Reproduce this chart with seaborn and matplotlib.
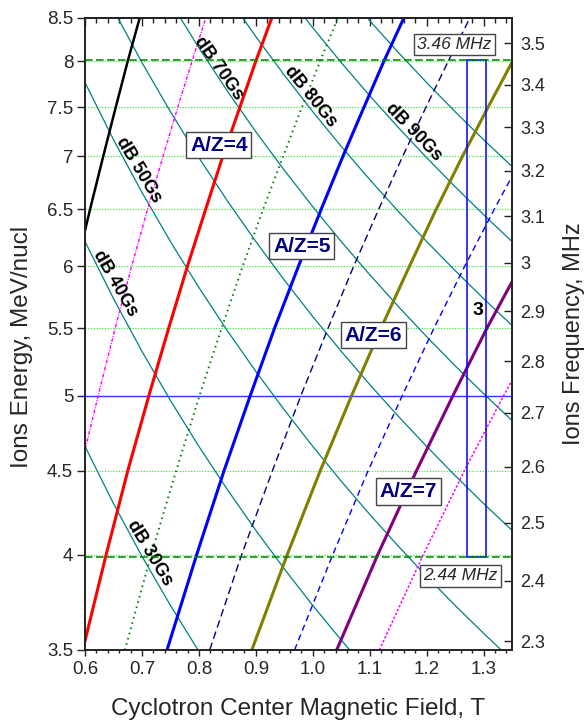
import matplotlib
matplotlib.use("Agg")
import matplotlib.pyplot as plt
import matplotlib.ticker as mticker
from matplotlib.patches import Rectangle
import pandas as pd
import seaborn as sns

# ------------------------------------------------------------
# Data
# ------------------------------------------------------------

# field (T) of each A/Z line at these energies (MeV/nucl)
energy_grid = [3.5, 4.0, 4.5, 5.0, 5.5, 6.0, 6.5, 7.0, 7.5, 8.0, 8.5]
az_field = {
    "3":   [0.447, 0.478, 0.506, 0.534, 0.560, 0.585, 0.609, 0.632, 0.654, 0.675, 0.696],
    "3.5": [0.521, 0.557, 0.591, 0.623, 0.653, 0.682, 0.710, 0.737, 0.763, 0.788, 0.812],
    "4":   [0.596, 0.637, 0.675, 0.712, 0.747, 0.780, 0.812, 0.842, 0.872, 0.900, 0.928],
    "4.5": [0.670, 0.716, 0.760, 0.801, 0.840, 0.877, 0.913, 0.948, 0.981, 1.013, 1.044],
    "5":   [0.744, 0.796, 0.844, 0.890, 0.933, 0.975, 1.015, 1.053, 1.090, 1.125, 1.160],
    "5.5": [0.819, 0.875, 0.929, 0.979, 1.027, 1.072, 1.116, 1.158, 1.199, 1.238, 1.276],
    "6":   [0.893, 0.955, 1.013, 1.068, 1.120, 1.170, 1.217, 1.263, 1.308, 1.351, 1.392],
    "6.5": [0.968, 1.035, 1.097, 1.157, 1.213, 1.267, 1.319, 1.369, 1.417, 1.463, 1.508],
    "7":   [1.042, 1.114, 1.182, 1.246, 1.306, 1.365, 1.420, 1.474, 1.526, 1.576, 1.624],
    "7.5": [1.117, 1.194, 1.266, 1.335, 1.400, 1.462, 1.522, 1.579, 1.635, 1.688, 1.740],
}

# energy (MeV/nucl) of each dB contour at these fields (T)
field_grid = [0.60, 0.65, 0.70, 0.75, 0.80, 0.85, 0.90, 0.95,
              1.00, 1.05, 1.10, 1.15, 1.20, 1.25, 1.30, 1.35]
db_energy = {
    30:  [4.658, 4.299, 3.992, 3.726, 3.493, 3.288, 3.105, 2.942,
          2.795, 2.661, 2.540, 2.430, 2.329, 2.236, 2.150, 2.070],
    40:  [6.210, 5.732, 5.323, 4.968, 4.658, 4.384, 4.140, 3.922,
          3.726, 3.549, 3.387, 3.240, 3.105, 2.981, 2.866, 2.760],
    50:  [7.763, 7.165, 6.654, 6.210, 5.822, 5.479, 5.175, 4.903,
          4.658, 4.436, 4.234, 4.050, 3.881, 3.726, 3.583, 3.450],
    60:  [9.315, 8.598, 7.984, 7.452, 6.986, 6.575, 6.210, 5.883,
          5.589, 5.323, 5.081, 4.860, 4.658, 4.471, 4.299, 4.140],
    70:  [10.868, 10.032, 9.315, 8.694, 8.151, 7.671, 7.245, 6.864,
          6.521, 6.210, 5.928, 5.670, 5.434, 5.216, 5.016, 4.830],
    80:  [12.420, 11.465, 10.646, 9.936, 9.315, 8.767, 8.280, 7.844,
          7.452, 7.097, 6.775, 6.480, 6.210, 5.962, 5.732, 5.520],
    90:  [13.973, 12.898, 11.976, 11.178, 10.479, 9.863, 9.315, 8.825,
          8.384, 7.984, 7.621, 7.290, 6.986, 6.707, 6.449, 6.210],
    100: [15.525, 14.331, 13.307, 12.420, 11.644, 10.959, 10.350, 9.805,
          9.315, 8.871, 8.468, 8.100, 7.763, 7.452, 7.165, 6.900],
}

energy_ticks = [3.5, 4.0, 4.5, 5.0, 5.5, 6.0, 6.5, 7.0, 7.5, 8.0, 8.5]
freq_ticks = [2.3, 2.4, 2.5, 2.6, 2.7, 2.8, 2.9, 3.0, 3.1, 3.2, 3.3, 3.4, 3.5]
freq_axis_limits = (2.286, 3.563)   # right axis range matching 3.5 .. 8.5 MeV/nucl
freq_band = [2.44, 3.46]            # MHz, working frequency range
band_field = [1.271, 1.305]         # T, field span of the harmonic-3 box
reference_energy = 5.0

# ------------------------------------------------------------
# Styles
# ------------------------------------------------------------
az_colors = {"3": "black", "3.5": "#ff00ff", "4": "#ff0000", "4.5": "#008000",
             "5": "#0000ff", "5.5": "#000080", "6": "#808000", "6.5": "#0000ff",
             "7": "#800080", "7.5": "#ff00ff"}
az_dashes = {"3": "", "3.5": (2.6, 1.0, 0.7, 1.0), "4": "", "4.5": (0.8, 2.0),
             "5": "", "5.5": (5.5, 3.0), "6": "", "6.5": (4.5, 3.0),
             "7": "", "7.5": (1.6, 1.2)}
az_widths = {"3": 1.8, "3.5": 1.0, "4": 2.2, "4.5": 1.4, "5": 2.2,
             "5.5": 1.0, "6": 2.2, "6.5": 1.0, "7": 2.2, "7.5": 1.1}

sns.set_theme(style="ticks")
plt.rcParams["font.family"] = ["Liberation Sans", "DejaVu Sans"]

az_df = pd.DataFrame(
    [(k, b, e) for k, vals in az_field.items() for b, e in zip(vals, energy_grid)],
    columns=["line", "field", "energy"],
)
db_df = pd.DataFrame(
    [(k, b, e) for k, vals in db_energy.items() for b, e in zip(field_grid, vals)],
    columns=["level", "field", "energy"],
)

fig = plt.figure(figsize=(5.88, 7.21), dpi=100)
ax = fig.add_axes([0.1446, 0.0985, 0.7262, 0.8766])
ax.set_yscale("log")

# light green energy grid and the 5 MeV/nucl reference
for e in energy_ticks[1:-1]:
    ax.axhline(e, color="#22ee22", lw=0.8, ls=(0, (1, 1.5)), zorder=1)
ax.axhline(reference_energy, color="#3535ff", lw=1.0, zorder=1.6)

# dB contours
sns.lineplot(data=db_df, x="field", y="energy", units="level", estimator=None,
             color="#008080", lw=0.9, sort=False, legend=False, ax=ax)

# A/Z lines
sns.lineplot(data=az_df, x="field", y="energy", hue="line", style="line",
             size="line", palette=az_colors, dashes=az_dashes, sizes=az_widths,
             estimator=None, sort=False, legend=False, ax=ax)

ax.set_xlim(0.6, 1.35)
ax.set_ylim(3.5, 8.5)
ax.yaxis.set_major_locator(mticker.FixedLocator(energy_ticks))
ax.yaxis.set_major_formatter(mticker.FuncFormatter(lambda v, p: f"{v:g}"))
ax.yaxis.set_minor_locator(mticker.NullLocator())
ax.xaxis.set_major_locator(mticker.MultipleLocator(0.1))
ax.xaxis.set_minor_locator(mticker.MultipleLocator(0.02))
ax.xaxis.set_major_formatter(mticker.FormatStrFormatter("%.1f"))
ax.tick_params(axis="x", which="major", direction="out", length=4, width=1,
               labelsize=13.5, pad=4, color="#222222")
ax.tick_params(axis="x", which="minor", direction="out", length=2.4, width=1,
               color="#222222")
ax.tick_params(axis="y", which="major", direction="out", length=5.5, width=1,
               labelsize=13.5, pad=3, color="#222222", right=False)

top = ax.secondary_xaxis("top")
top.xaxis.set_major_locator(mticker.MultipleLocator(0.1))
top.xaxis.set_minor_locator(mticker.MultipleLocator(0.02))
top.tick_params(which="major", direction="in", length=5.5, width=1,
                labeltop=False, color="#222222")
top.tick_params(which="minor", direction="in", length=3.5, width=1,
                color="#222222")
top.spines["top"].set_linewidth(1.2)
top.spines["top"].set_color("#222222")

for s in ax.spines.values():
    s.set_linewidth(1.2)
    s.set_color("#222222")

ax.set_xlabel("Cyclotron Center Magnetic Field, T", fontsize=17.5)
ax.set_ylabel("Ions Energy, MeV/nucl", fontsize=17.5)
ax.xaxis.set_label_coords(0.5, -0.076)
ax.yaxis.set_label_coords(-0.122, 0.48)

# right frequency axis
ax2 = ax.twinx()
ax2.set_yscale("log")
ax2.set_ylim(*freq_axis_limits)
ax2.yaxis.set_major_locator(mticker.FixedLocator(freq_ticks))
ax2.yaxis.set_major_formatter(mticker.FuncFormatter(lambda v, p: f"{v:g}"))
ax2.yaxis.set_minor_locator(mticker.NullLocator())
ax2.tick_params(axis="y", direction="in", length=6, width=1, labelsize=13,
                pad=6, color="#222222")
for s in ax2.spines.values():
    s.set_linewidth(1.2)
    s.set_color("#222222")
ax2.set_ylabel("Ions Frequency, MHz", fontsize=17, rotation=90)
ax2.yaxis.set_label_coords(1.12, 0.5)

for f in freq_band:
    ax2.axhline(f, color="#008000", lw=1.1, ls=(0, (5, 2.2)))
ax2.add_patch(Rectangle((band_field[0], freq_band[0]), band_field[1] - band_field[0],
                        freq_band[1] - freq_band[0], fill=False,
                        edgecolor="#0000ff", lw=1.1))

box = dict(boxstyle="square,pad=0.18", fc="white", ec="#444444", lw=1)
ax2.text(1.2486, 3.498, "3.46 MHz", fontsize=12.5, style="italic",
         ha="center", va="center", bbox=box)
ax2.text(1.2596, 2.408, "2.44 MHz", fontsize=12.5, style="italic",
         ha="center", va="center", bbox=box)

# labels
az_labels = [("A/Z=4", 0.835, 7.11), ("A/Z=5", 0.981, 6.17),
             ("A/Z=6", 1.1065, 5.445), ("A/Z=7", 1.168, 4.372)]
for txt, b, e in az_labels:
    ax.text(b, e, txt, fontsize=15, fontweight="bold", color="#000080",
            ha="center", va="center", bbox=box, zorder=5)

db_labels = [("dB 30Gs", 0.714, 4.01, -59), ("dB 40Gs", 0.6526, 5.857, -60),
             ("dB 50Gs", 0.6935, 6.866, -59), ("dB 70Gs", 0.834, 7.92, -55),
             ("dB 80Gs", 0.9965, 7.608, -51), ("dB 90Gs", 1.1767, 7.245, -46)]
for txt, b, e, rot in db_labels:
    ax.text(b, e, txt, fontsize=13, fontweight="bold", color="black",
            ha="center", va="center", rotation=rot, rotation_mode="anchor",
            zorder=5)

ax.text(1.2906, 5.64, "3", fontsize=14, fontweight="bold", color="black",
        ha="center", va="center", zorder=5)

fig.savefig("out.png", dpi=100)
